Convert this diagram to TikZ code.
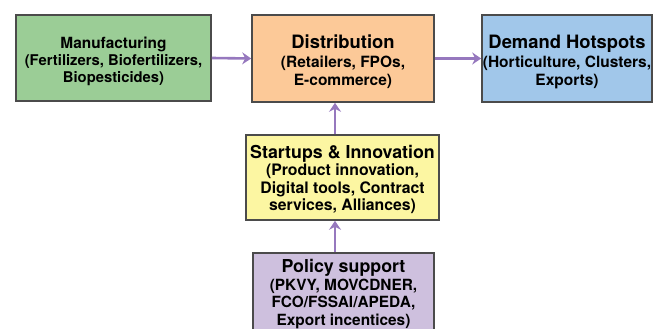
\documentclass[tikz,border=0pt]{standalone}
\usepackage{fontspec}
\setmainfont{TeX Gyre Heros}
\usetikzlibrary{arrows.meta,shadows}
\definecolor{cgreen}{RGB}{155,205,150}
\definecolor{corange}{RGB}{252,201,152}
\definecolor{cblue}{RGB}{161,199,234}
\definecolor{cyellow}{RGB}{252,246,162}
\definecolor{cpurple}{RGB}{206,192,222}
\definecolor{cedge}{RGB}{75,75,75}
\definecolor{carrow}{RGB}{150,120,190}
\newcommand{\upstrut}[1]{\rule{0pt}{#1}}
\newcommand{\downstrut}[1]{\rule[-#1]{0pt}{#1}}
\tikzset{
  box/.style={draw=cedge, line width=1.6pt, align=center, inner sep=0pt,
    font=\bfseries\fontsize{15.5}{17.5}\selectfont,
    drop shadow={shadow xshift=0.6pt, shadow yshift=-0.6pt, opacity=0.35, fill=black!60}},
  flow/.style={draw=carrow, line width=2.6pt, -{Stealth[length=9pt,width=12pt,inset=3pt]}},
}
\begin{document}
\begin{tikzpicture}[x=1pt,y=-1pt]
\useasboundingbox (0,0) rectangle (653,329);
\fill[white] (0,0) rectangle (653,329);
\begin{scope}
\clip (0,0) rectangle (653,329);
\node[box, fill=cgreen, minimum width=195pt, minimum height=86pt,
  font=\bfseries\fontsize{14.8}{17}\selectfont] (man) at (113.5,58)
  {{\fontsize{15.4}{17}\selectfont\upstrut{19pt}Manufacturing}\\(Fertilizers, Biofertilizers,\\Biopesticides)};
\node[box, fill=corange, minimum width=182pt, minimum height=87pt] (dis) at (343,58.5)
  {{\fontsize{18.4}{20}\selectfont\upstrut{20pt}Distribution}\\[1.5pt](Retailers, FPOs,\\E-commerce)};
\node[box, fill=cblue, minimum width=170pt, minimum height=87pt] (dem) at (567,58.5)
  {{\fontsize{18.4}{20}\selectfont\upstrut{20pt}Demand Hotspots}\\[1.5pt](Horticulture, Clusters,\\Exports)};
\node[box, fill=cyellow, minimum width=193pt, minimum height=85pt,
  font=\bfseries\fontsize{15.8}{17.5}\selectfont] (sta) at (342.5,177.5)
  {{\fontsize{17.8}{19}\selectfont\upstrut{17pt}Startups \& Innovation}\\(Product innovation,\\Digital tools, Contract\\services, Alliances)};
\node[box, fill=cpurple, minimum width=181pt, minimum height=86pt,
  font=\bfseries\fontsize{15.4}{17.5}\selectfont] (pol) at (343.5,296)
  {{\fontsize{17.8}{19}\selectfont Policy support}\\(PKVY, MOVCDNER,\\FCO/FSSAI/APEDA,\\Export incentices)\downstrut{7.5pt}};
\draw[flow] (man.east) -- (dis.west);
\draw[flow] (dis.east) -- (dem.west);
\draw[flow] (sta.north -| 335,0) -- (dis.south -| 335,0);
\draw[flow] (pol.north -| 335,0) -- (sta.south -| 335,0);
\end{scope}
\end{tikzpicture}
\end{document}
